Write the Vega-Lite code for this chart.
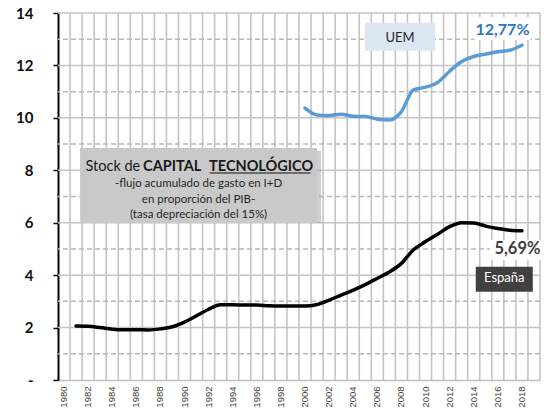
{
  "$schema": "https://vega.github.io/schema/vega-lite/v6.json",
  "width": 482,
  "height": 367,
  "autosize": {"type": "none"},
  "padding": {"left": 58, "top": 13, "right": 5, "bottom": 35},
  "background": "#ffffff",
  "config": {
    "view": {"stroke": null},
    "font": "Lato",
    "axisX": {
      "grid": false,
      "tickSize": 0,
      "domainColor": "#c0c0c0",
      "domainWidth": 1.5,
      "labelAngle": -90,
      "labelAlign": "right",
      "labelBaseline": "middle",
      "labelPadding": 6,
      "labelFont": "Liberation Sans",
      "labelFontSize": 9.5,
      "labelColor": "#404040",
      "title": null
    },
    "axisY": {
      "grid": false,
      "labelFont": "Lato",
      "labelFontWeight": "bold",
      "labelFontSize": 15,
      "labelColor": "#111111",
      "labelPadding": 20,
      "domainColor": "#000000",
      "domainWidth": 2,
      "tickColor": "#000000",
      "tickWidth": 1.5,
      "tickSize": 5,
      "title": null,
      "zindex": 1
    }
  },
  "data": {
    "values": [
      {"year": 1981, "serie": "España", "value": 2.06},
      {"year": 1982, "serie": "España", "value": 2.05},
      {"year": 1983, "serie": "España", "value": 2.0},
      {"year": 1984, "serie": "España", "value": 1.94},
      {"year": 1985, "serie": "España", "value": 1.92},
      {"year": 1986, "serie": "España", "value": 1.92},
      {"year": 1987, "serie": "España", "value": 1.91},
      {"year": 1988, "serie": "España", "value": 1.95},
      {"year": 1989, "serie": "España", "value": 2.03},
      {"year": 1990, "serie": "España", "value": 2.21},
      {"year": 1991, "serie": "España", "value": 2.45},
      {"year": 1992, "serie": "España", "value": 2.7},
      {"year": 1993, "serie": "España", "value": 2.87},
      {"year": 1994, "serie": "España", "value": 2.87},
      {"year": 1995, "serie": "España", "value": 2.86},
      {"year": 1996, "serie": "España", "value": 2.86},
      {"year": 1997, "serie": "España", "value": 2.83},
      {"year": 1998, "serie": "España", "value": 2.82},
      {"year": 1999, "serie": "España", "value": 2.82},
      {"year": 2000, "serie": "España", "value": 2.82},
      {"year": 2001, "serie": "España", "value": 2.88},
      {"year": 2002, "serie": "España", "value": 3.05},
      {"year": 2003, "serie": "España", "value": 3.24},
      {"year": 2004, "serie": "España", "value": 3.43},
      {"year": 2005, "serie": "España", "value": 3.64},
      {"year": 2006, "serie": "España", "value": 3.88},
      {"year": 2007, "serie": "España", "value": 4.12},
      {"year": 2008, "serie": "España", "value": 4.45},
      {"year": 2009, "serie": "España", "value": 4.97},
      {"year": 2010, "serie": "España", "value": 5.28},
      {"year": 2011, "serie": "España", "value": 5.56},
      {"year": 2012, "serie": "España", "value": 5.85},
      {"year": 2013, "serie": "España", "value": 6.0},
      {"year": 2014, "serie": "España", "value": 5.99},
      {"year": 2015, "serie": "España", "value": 5.87},
      {"year": 2016, "serie": "España", "value": 5.78},
      {"year": 2017, "serie": "España", "value": 5.71},
      {"year": 2018, "serie": "España", "value": 5.69},
      {"year": 2000, "serie": "UEM", "value": 10.37},
      {"year": 2001, "serie": "UEM", "value": 10.11},
      {"year": 2002, "serie": "UEM", "value": 10.09},
      {"year": 2003, "serie": "UEM", "value": 10.14},
      {"year": 2004, "serie": "UEM", "value": 10.06},
      {"year": 2005, "serie": "UEM", "value": 10.05},
      {"year": 2006, "serie": "UEM", "value": 9.95},
      {"year": 2007, "serie": "UEM", "value": 9.92},
      {"year": 2008, "serie": "UEM", "value": 10.24},
      {"year": 2009, "serie": "UEM", "value": 11.07},
      {"year": 2010, "serie": "UEM", "value": 11.17},
      {"year": 2011, "serie": "UEM", "value": 11.35},
      {"year": 2012, "serie": "UEM", "value": 11.78},
      {"year": 2013, "serie": "UEM", "value": 12.15},
      {"year": 2014, "serie": "UEM", "value": 12.34},
      {"year": 2015, "serie": "UEM", "value": 12.43},
      {"year": 2016, "serie": "UEM", "value": 12.52},
      {"year": 2017, "serie": "UEM", "value": 12.58},
      {"year": 2018, "serie": "UEM", "value": 12.77}
    ]
  },
  "layer": [
    {
      "data": {"values": [{"yr": 1981},{"yr": 1982},{"yr": 1983},{"yr": 1984},{"yr": 1985},{"yr": 1986},{"yr": 1987},{"yr": 1988},{"yr": 1989},{"yr": 1990},{"yr": 1991},{"yr": 1992},{"yr": 1993},{"yr": 1994},{"yr": 1995},{"yr": 1996},{"yr": 1997},{"yr": 1998},{"yr": 1999},{"yr": 2000},{"yr": 2001},{"yr": 2002},{"yr": 2003},{"yr": 2004},{"yr": 2005},{"yr": 2006},{"yr": 2007},{"yr": 2008},{"yr": 2009},{"yr": 2010},{"yr": 2011},{"yr": 2012},{"yr": 2013},{"yr": 2014},{"yr": 2015},{"yr": 2016},{"yr": 2017},{"yr": 2018},{"yr": 2019}]},
      "mark": {"type": "bar", "color": "#c4c4c4", "width": 1.6, "xOffset": -6.025},
      "encoding": {
        "x": {"field": "yr", "type": "ordinal"},
        "y": {"datum": 14, "type": "quantitative"},
        "y2": {"datum": 0}
      }
    },
    {
      "data": {"values": [{"yr": 2019}]},
      "mark": {"type": "bar", "color": "#c4c4c4", "width": 1.6, "xOffset": 6.025},
      "encoding": {
        "x": {"field": "yr", "type": "ordinal"},
        "y": {"datum": 14, "type": "quantitative"},
        "y2": {"datum": 0}
      }
    },
    {
      "data": {"values": [{"g": 2},{"g": 4},{"g": 6},{"g": 8},{"g": 10},{"g": 12},{"g": 14}]},
      "mark": {"type": "rule", "strokeWidth": 1.5, "color": "#c4c4c4"},
      "encoding": {
        "y": {"field": "g", "type": "quantitative"}
      }
    },
    {
      "data": {"values": [{"g": 1},{"g": 3},{"g": 5},{"g": 7},{"g": 9},{"g": 11},{"g": 13}]},
      "mark": {"type": "rule", "strokeWidth": 1.5, "color": "#b8b8b8", "strokeDash": [5, 3]},
      "encoding": {
        "y": {"field": "g", "type": "quantitative"}
      }
    },
    {
      "mark": {"type": "line", "interpolate": "monotone", "strokeWidth": 3.5, "strokeCap": "round"},
      "encoding": {
        "x": {
          "field": "year",
          "type": "ordinal",
          "scale": {
            "type": "band",
            "paddingInner": 0,
            "paddingOuter": 0,
            "domain": [1980,1981,1982,1983,1984,1985,1986,1987,1988,1989,1990,1991,1992,1993,1994,1995,1996,1997,1998,1999,2000,2001,2002,2003,2004,2005,2006,2007,2008,2009,2010,2011,2012,2013,2014,2015,2016,2017,2018,2019]
          },
          "axis": {
            "grid": false,
            "labelExpr": "datum.value % 2 == 0 ? datum.value : ''"
          }
        },
        "y": {
          "field": "value",
          "type": "quantitative",
          "scale": {"domain": [0, 14], "nice": false},
          "axis": {
            "grid": false,
            "values": [0,1,2,3,4,5,6,7,8,9,10,11,12,13,14],
            "labelExpr": "datum.value == 0 ? '-' : (datum.value % 2 == 0 ? datum.value : '')"
          }
        },
        "color": {
          "field": "serie",
          "type": "nominal",
          "legend": null,
          "scale": {"domain": ["España", "UEM"], "range": ["#000000", "#5b9bd5"]}
        }
      }
    },
    {
      "data": {"values": [{"x": 1991, "top": 8.85, "bottom": 5.99}]},
      "layer": [
        {
          "mark": {"type": "bar", "width": 239, "color": "#a0a0a0", "opacity": 0.5, "xOffset": 5, "yOffset": 3},
          "encoding": {
            "x": {"field": "x", "type": "ordinal"},
            "y": {"field": "top", "type": "quantitative"},
            "y2": {"field": "bottom"}
          }
        },
        {
          "mark": {"type": "bar", "width": 237, "color": "#c9c9c9", "xOffset": 2},
          "encoding": {
            "x": {"field": "x", "type": "ordinal"},
            "y": {"field": "top", "type": "quantitative"},
            "y2": {"field": "bottom"}
          }
        }
      ]
    },
    {
      "data": {"values": [{"x": 1991}]},
      "layer": [
        {
          "mark": {"type": "text", "text": "Stock de", "align": "left", "baseline": "alphabetic", "fontSize": 14.5, "color": "#1a1a1a", "dx": -111},
          "encoding": {"x": {"field": "x", "type": "ordinal"}, "y": {"datum": 7.98, "type": "quantitative"}}
        },
        {
          "mark": {"type": "text", "text": "CAPITAL", "align": "left", "baseline": "alphabetic", "fontSize": 14.5, "fontWeight": "bold", "color": "#1a1a1a", "dx": -53.5},
          "encoding": {"x": {"field": "x", "type": "ordinal"}, "y": {"datum": 7.98, "type": "quantitative"}}
        },
        {
          "mark": {"type": "text", "text": "TECNOLÓGICO", "align": "left", "baseline": "alphabetic", "fontSize": 14.5, "fontWeight": "bold", "color": "#1a1a1a", "dx": 12.5},
          "encoding": {"x": {"field": "x", "type": "ordinal"}, "y": {"datum": 7.98, "type": "quantitative"}}
        },
        {
          "mark": {"type": "tick", "orient": "horizontal", "size": 101, "thickness": 1.5, "color": "#1a1a1a", "xOffset": 63.5},
          "encoding": {"x": {"field": "x", "type": "ordinal"}, "y": {"datum": 7.9, "type": "quantitative"}}
        },
        {
          "mark": {"type": "text", "text": "-flujo acumulado de gasto en I+D", "align": "center", "baseline": "alphabetic", "fontSize": 11.5, "color": "#262626", "dx": 2},
          "encoding": {"x": {"field": "x", "type": "ordinal"}, "y": {"datum": 7.37, "type": "quantitative"}}
        },
        {
          "mark": {"type": "text", "text": "en proporción del PIB-", "align": "center", "baseline": "alphabetic", "fontSize": 11.5, "color": "#262626", "dx": 2},
          "encoding": {"x": {"field": "x", "type": "ordinal"}, "y": {"datum": 6.75, "type": "quantitative"}}
        },
        {
          "mark": {"type": "text", "text": "(tasa depreciación del 15%)", "align": "center", "baseline": "alphabetic", "fontSize": 11.5, "color": "#262626", "dx": 2},
          "encoding": {"x": {"field": "x", "type": "ordinal"}, "y": {"datum": 6.18, "type": "quantitative"}}
        }
      ]
    },
    {
      "data": {"values": [{"x": 2008, "top": 13.63, "bottom": 12.56}]},
      "layer": [
        {
          "mark": {"type": "bar", "width": 70, "color": "#dce6f2", "xOffset": -1.4},
          "encoding": {
            "x": {"field": "x", "type": "ordinal"},
            "y": {"field": "top", "type": "quantitative"},
            "y2": {"field": "bottom"}
          }
        },
        {
          "mark": {"type": "text", "text": "UEM", "align": "center", "baseline": "alphabetic", "fontSize": 13, "color": "#262626", "dx": -1.4},
          "encoding": {"x": {"field": "x", "type": "ordinal"}, "y": {"datum": 12.89, "type": "quantitative"}}
        }
      ]
    },
    {
      "data": {"values": [{"x": 2016, "top": 13.85, "bottom": 12.97}]},
      "layer": [
        {
          "mark": {"type": "bar", "width": 56, "color": "#ffffff", "xOffset": 4.7},
          "encoding": {
            "x": {"field": "x", "type": "ordinal"},
            "y": {"field": "top", "type": "quantitative"},
            "y2": {"field": "bottom"}
          }
        },
        {
          "mark": {"type": "text", "text": "12,77%", "align": "center", "baseline": "alphabetic", "fontSize": 16, "fontWeight": "bold", "color": "#2e75c6", "dx": 4.7},
          "encoding": {"x": {"field": "x", "type": "ordinal"}, "y": {"datum": 13.16, "type": "quantitative"}}
        }
      ]
    },
    {
      "data": {"values": [{"x": 2018, "top": 5.34, "bottom": 4.58}]},
      "layer": [
        {
          "mark": {"type": "bar", "width": 55, "color": "#ffffff", "xOffset": -4.4},
          "encoding": {
            "x": {"field": "x", "type": "ordinal"},
            "y": {"field": "top", "type": "quantitative"},
            "y2": {"field": "bottom"}
          }
        },
        {
          "mark": {"type": "text", "text": "5,69%", "align": "center", "baseline": "alphabetic", "fontSize": 16.5, "fontWeight": "bold", "color": "#404040", "dx": -4.5},
          "encoding": {"x": {"field": "x", "type": "ordinal"}, "y": {"datum": 4.8, "type": "quantitative"}}
        }
      ]
    },
    {
      "data": {"values": [{"x": 2017, "top": 4.32, "bottom": 3.37}]},
      "layer": [
        {
          "mark": {"type": "bar", "width": 57, "color": "#404040", "xOffset": -5.6},
          "encoding": {
            "x": {"field": "x", "type": "ordinal"},
            "y": {"field": "top", "type": "quantitative"},
            "y2": {"field": "bottom"}
          }
        },
        {
          "mark": {"type": "text", "text": "España", "align": "center", "baseline": "alphabetic", "fontSize": 13, "color": "#ffffff", "dx": -5.6},
          "encoding": {"x": {"field": "x", "type": "ordinal"}, "y": {"datum": 3.75, "type": "quantitative"}}
        }
      ]
    }
  ]
}
